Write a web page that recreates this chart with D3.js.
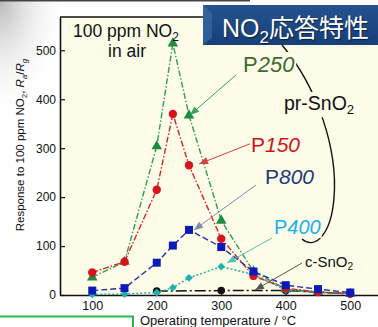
<!DOCTYPE html>
<html><head><meta charset="utf-8">
<script src="https://cdn.jsdelivr.net/npm/d3@7"></script>
<style>
html,body{margin:0;padding:0;background:#fff;}
svg{display:block;font-family:"Liberation Sans",Arial,sans-serif;}
</style></head>
<body><svg id="c" width="378" height="327"></svg>
<script>
const temps = [100,150,200,225,250,300,350,400,450,500];
const p250 = [36,68,304,514,367,152,48,12,6,3];
const p150 = [46,68,215,370,265,115,39,14,6,3];
const p800 = [9,14,66,101,133,98,48,20,12,5];
const p400 = [1,2,5,15,35,58,42,10,5,3];
const cTemps = [200,300,400,450,500];
const cSnO2 = [8,9,9,6,2];
const xTicks = [100,200,300,400,500];
const yTicks = [0,100,200,300,400,500];

const svg = d3.select("#c");
const defs = svg.append("defs");
const rg = defs.append("radialGradient").attr("id","shade").attr("cx",0).attr("cy",0).attr("r",1);
rg.append("stop").attr("offset","0%").attr("stop-color","#b8b8b8");
rg.append("stop").attr("offset","100%").attr("stop-color","#ffffff").attr("stop-opacity",0);
const tg = defs.append("linearGradient").attr("id","tbox").attr("x1",0).attr("y1",0).attr("x2",0).attr("y2",1);
tg.append("stop").attr("offset","0%").attr("stop-color","#24528e");
tg.append("stop").attr("offset","100%").attr("stop-color","#173f78");

// page decoration
svg.append("rect").attr("x",0).attr("y",0).attr("width",70).attr("height",120).attr("fill","url(#shade)");
svg.append("line").attr("x1",0).attr("x2",250).attr("y1",0.8).attr("y2",0.8).attr("stroke","#444").attr("stroke-width",1.6);

const x = d3.scaleLinear().domain([50,550]).range([60,382.5]);
const y = d3.scaleLinear().domain([0,568]).range([295,17]);

// plot background
svg.append("rect").attr("x",x(50)).attr("y",y(568)).attr("width",x(550)-x(50)).attr("height",y(0)-y(568)).attr("fill","#fdfce8");

// axes
const gx = svg.append("g").attr("transform",`translate(0,${y(0)})`)
  .call(d3.axisBottom(x).tickValues(xTicks).tickSizeInner(-4).tickSizeOuter(0).tickPadding(6.5));
const gy = svg.append("g").attr("transform",`translate(${x(50)},0)`)
  .call(d3.axisLeft(y).tickValues(yTicks).tickSizeInner(-5).tickSizeOuter(0).tickPadding(4));
[gx,gy].forEach(g=>{
  g.selectAll("path").attr("stroke","#111").attr("stroke-width",1.6);
  g.selectAll("line").attr("stroke","#111").attr("stroke-width",1.2);
  g.selectAll("text").attr("fill","#111").attr("font-size",12.5).attr("font-family","Liberation Sans, Arial, sans-serif");
});
gy.selectAll("text").attr("font-size",12);
svg.append("line").attr("x1",x(50)).attr("x2",210).attr("y1",y(568)).attr("y2",y(568)).attr("stroke","#111").attr("stroke-width",1.4);

// axis labels
const yl = svg.append("text").attr("transform","translate(24,145) rotate(-90)").attr("text-anchor","middle")
  .attr("font-size",11.5).attr("fill","#111");
yl.append("tspan").text("Response to 100 ppm NO");
yl.append("tspan").text("2").attr("font-size",8).attr("dy",3);
yl.append("tspan").text(", ").attr("dy",-3);
yl.append("tspan").text("R").attr("font-style","italic");
yl.append("tspan").text("a").attr("font-style","italic").attr("font-size",8).attr("dy",3);
yl.append("tspan").text("/").attr("dy",-3);
yl.append("tspan").text("R").attr("font-style","italic");
yl.append("tspan").text("g").attr("font-style","italic").attr("font-size",8).attr("dy",3);

svg.append("text").attr("x",218).attr("y",325).attr("text-anchor","middle").attr("font-size",13).attr("fill","#111")
  .text("Operating temperature / °C");

// green box at bottom-left
svg.append("path").attr("d","M0,316.5 H133 V327").attr("fill","none").attr("stroke","#2db84d").attr("stroke-width",2);

// series
const line = d3.line().x(d=>x(d[0])).y(d=>y(d[1]));
function series(tv, vals, color, dash, width){
  const pts = tv.map((t,i)=>[t,vals[i]]);
  svg.append("path").datum(pts).attr("d",line).attr("fill","none").attr("stroke",color)
    .attr("stroke-width",width).attr("stroke-dasharray",dash);
  return pts;
}
const sym = (type,size)=>d3.symbol().type(type).size(size);

// black c-SnO2
let pts = series(cTemps,cSnO2,"#111","11,3,2,3",1.5);
svg.selectAll(".cb").data(pts).join("circle").attr("cx",d=>x(d[0])).attr("cy",d=>y(d[1])).attr("r",3.8).attr("fill","#111");

// cyan P400
pts = series(temps,p400,"#22b0a6","2,2",1.5);
svg.selectAll(".cy").data(pts).join("path").attr("d",sym(d3.symbolDiamond2,38)()).attr("transform",d=>`translate(${x(d[0])},${y(d[1])})`).attr("fill","#1cb3ad");

// green P250
pts = series(temps,p250,"#2f9f58","6,2,1.5,2",1.4);
svg.selectAll(".gr").data(pts).join("path").attr("d",sym(d3.symbolTriangle,48)()).attr("transform",d=>`translate(${x(d[0])},${y(d[1])})`).attr("fill","#1b8c40");

// red P150
pts = series(temps,p150,"#d6222a","6,2,1.5,2",1.4);
svg.selectAll(".rd").data(pts).join("circle").attr("cx",d=>x(d[0])).attr("cy",d=>y(d[1])).attr("r",4.2).attr("fill","#d7141c");

// blue P800
pts = series(temps,p800,"#2a2fa8","6,3",1.4);
svg.selectAll(".bl").data(pts).join("rect").attr("x",d=>x(d[0])-4).attr("y",d=>y(d[1])-4).attr("width",8).attr("height",8).attr("fill","#0c1ab8");

// pr-SnO2 bracket curve
svg.append("path").attr("d","M282,45 C318,88 338,150 334,198 C331,236 314,250 302,239").attr("fill","none").attr("stroke","#111").attr("stroke-width",1.4);

// arrows
function arrow(x1,y1,x2,y2,color){
  svg.append("line").attr("x1",x1).attr("y1",y1).attr("x2",x2).attr("y2",y2).attr("stroke",color).attr("stroke-width",1);
  const a = Math.atan2(y2-y1,x2-x1), L=9, W=3.6;
  const bx = x2 - L*Math.cos(a), by = y2 - L*Math.sin(a);
  const px = -Math.sin(a)*W, py = Math.cos(a)*W;
  svg.append("path").attr("d",`M${x2},${y2} L${bx+px},${by+py} L${bx-px},${by-py} Z`).attr("fill",color);
}
arrow(236,75,190,115,"#3aa05a");
arrow(252,143,199,164,"#d84040");
arrow(256,185,194,230,"#7f8bb0");
arrow(272,238,227,263,"#5cc0b0");
arrow(302,263,255,290,"#555");

// labels with background
function label(xp,yp,parts,size,bg){
  const t = svg.append("text").attr("x",xp).attr("y",yp).attr("font-size",size);
  parts.forEach(p=>{
    const s=t.append("tspan").text(p.t).attr("fill",p.c||"#111");
    if(p.i) s.attr("font-style","italic");
    if(p.sub) s.attr("font-size",size*0.68).attr("dy",size*0.22);
    if(p.up) s.attr("dy",-size*0.22);
  });
  if(bg){
    const b=t.node().getBBox();
    svg.insert("rect",()=>t.node()).attr("x",b.x-1).attr("y",b.y).attr("width",b.width+2).attr("height",b.height).attr("fill","#fdfce8");
  }
  return t;
}
label(73,37,[{t:"100 ppm NO"},{t:"2",sub:true}],17.5,false);
svg.append("text").attr("x",127).attr("y",57).attr("text-anchor","middle").attr("font-size",17.5).attr("fill","#111").text("in air");
label(243,72,[{t:"P",c:"#3d6b2e"},{t:"250",c:"#3d6b2e",i:true}],22,true);
label(284,110,[{t:"pr-SnO"},{t:"2",sub:true}],19.5,true);
label(251,152,[{t:"P",c:"#d0141a"},{t:"150",c:"#d0141a",i:true}],21,true);
label(265,184,[{t:"P",c:"#1c3878"},{t:"800",c:"#1c3878",i:true}],21,true);
label(274,234,[{t:"P",c:"#1ab0ee"},{t:"400",c:"#1ab0ee",i:true}],20,true);
label(305,267,[{t:"c-SnO"},{t:"2",sub:true}],15,true);

// title box
svg.append("rect").attr("x",203).attr("y",5).attr("width",180).attr("height",40).attr("fill","url(#tbox)");
svg.append("path").attr("d","M203,5 L212,13 L212,38 L203,45 Z").attr("fill","#3b6aa6").attr("opacity",0.7);
const tt = svg.append("text").attr("x",222).attr("y",37).attr("font-size",25).attr("fill","#fff")
  .attr("font-family","'Noto Sans CJK JP','Liberation Sans',sans-serif").attr("style","text-shadow:1px 1px 1px rgba(0,0,0,0.5)");
tt.append("tspan").text("NO").attr("font-family","Liberation Sans, Arial, sans-serif");
tt.append("tspan").text("2").attr("font-size",17).attr("dy",6).attr("font-family","Liberation Sans, Arial, sans-serif");
tt.append("tspan").text("応答特性").attr("dy",-6);
</script></body></html>
